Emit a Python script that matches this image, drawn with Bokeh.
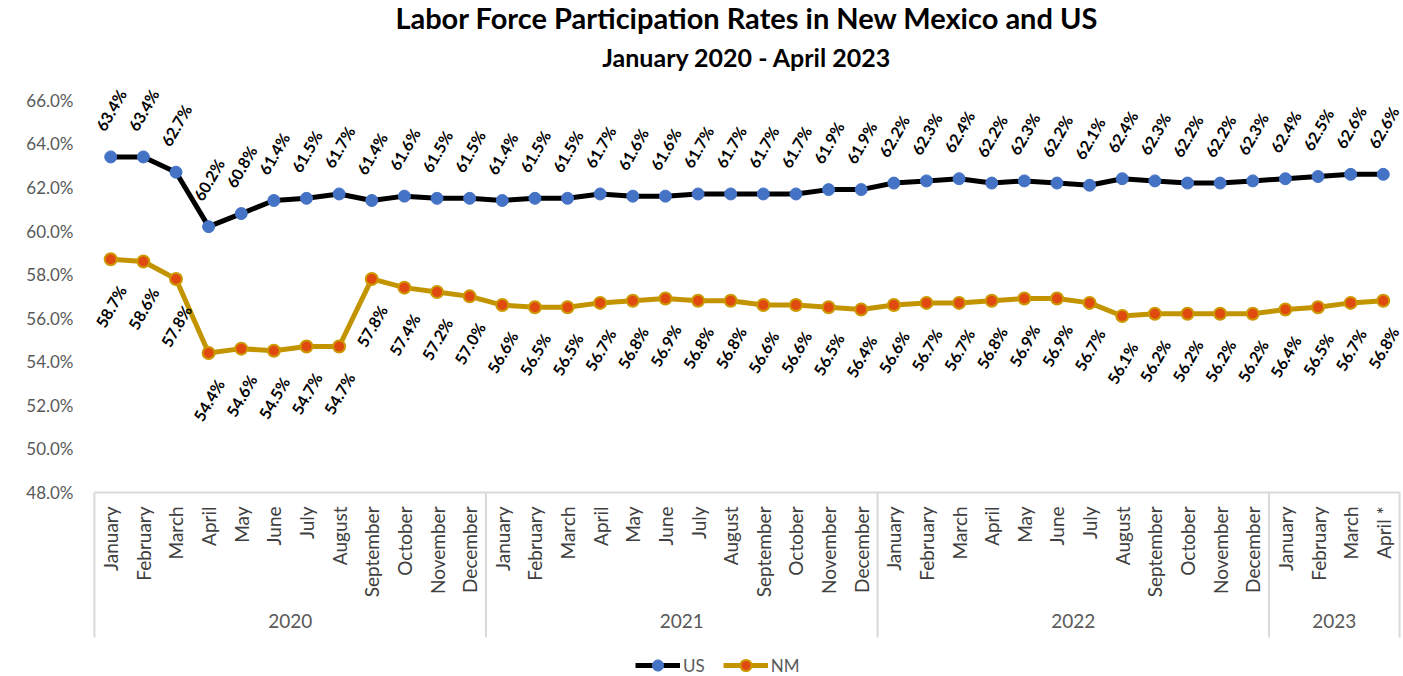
import math
from bokeh.plotting import figure
from bokeh.models import (FactorRange, ColumnDataSource, Range1d, FixedTicker,
                          PrintfTickFormatter, Legend, LegendItem, Title)
from bokeh.embed import file_html
from bokeh.resources import INLINE
from bokeh.core.properties import value

# ---------------- data ----------------
years = ["2020", "2021", "2022", "2023"]
months_per_year = [12, 12, 12, 4]
month_names = ["January", "February", "March", "April", "May", "June", "July",
               "August", "September", "October", "November", "December"]
last_month_label = "April *"

us_rate = [63.4, 63.4, 62.7, 60.2, 60.8, 61.4, 61.5, 61.7, 61.4, 61.6, 61.5, 61.5,
           61.4, 61.5, 61.5, 61.7, 61.6, 61.6, 61.7, 61.7, 61.7, 61.7, 61.9, 61.9,
           62.2, 62.3, 62.4, 62.2, 62.3, 62.2, 62.1, 62.4, 62.3, 62.2, 62.2, 62.3,
           62.4, 62.5, 62.6, 62.6]
nm_rate = [58.7, 58.6, 57.8, 54.4, 54.6, 54.5, 54.7, 54.7, 57.8, 57.4, 57.2, 57.0,
           56.6, 56.5, 56.5, 56.7, 56.8, 56.9, 56.8, 56.8, 56.6, 56.6, 56.5, 56.4,
           56.6, 56.7, 56.7, 56.8, 56.9, 56.9, 56.7, 56.1, 56.2, 56.2, 56.2, 56.2,
           56.4, 56.5, 56.7, 56.8]
y_ticks = [48, 50, 52, 54, 56, 58, 60, 62, 64, 66]

title_text = "Labor Force Participation Rates in New Mexico and US"
subtitle_text = "January 2020 - April 2023"
series_names = ["US", "NM"]

# ---------------- build factors ----------------
factors = []
for yr, n in zip(years, months_per_year):
    for m in range(n):
        factors.append((yr, month_names[m]))
factors[-1] = (factors[-1][0], last_month_label)

src = ColumnDataSource(dict(
    x=factors,
    us=us_rate,
    nm=nm_rate,
    us_lbl=[f"{v:.1f}%" for v in us_rate],
    nm_lbl=[f"{v:.1f}%" for v in nm_rate],
))

FONT = "Lato"
PX_PER_PCT = 392 / 18.0          # 2 points = ~43.6 px
PX_PER_CAT = 32.64               # width of one month slot
X_PAD = 0.12                     # small slack so edge labels are not clipped
AXIS_MIN, TOP_PAD = y_ticks[0], 1.0
BOTTOM_AREA_PX = 184             # room under the 48% line for month/year axis + legend
y_start = AXIS_MIN - BOTTOM_AREA_PX / PX_PER_PCT
y_end = y_ticks[-1] + TOP_PAD
FRAME_H = int(round((y_end - y_start) * PX_PER_PCT))
FRAME_W = int(round((len(factors) + 2 * X_PAD) * PX_PER_CAT))

p = figure(frame_width=FRAME_W, frame_height=FRAME_H,
           x_range=FactorRange(*factors, factor_padding=0, group_padding=0,
                               subgroup_padding=0, range_padding=X_PAD,
                               range_padding_units="absolute"),
           y_range=Range1d(y_start, y_end),
           output_backend="svg", toolbar_location=None,
           min_border_left=90, min_border_right=0, min_border_top=0,
           min_border_bottom=0)

p.outline_line_color = None
p.background_fill_color = "white"
p.border_fill_color = "white"
p.xgrid.visible = False
p.ygrid.visible = False

# titles
p.title.text = title_text
p.title.align = "center"
p.title.text_font = FONT
p.title.text_font_size = "29px"
p.title.text_font_style = "bold"
p.title.text_color = "black"
p.title.standoff = -5
sub = Title(text=subtitle_text, align="center", text_font=FONT,
            text_font_size="25px", text_font_style="bold", text_color="black",
            standoff=14)
p.add_layout(sub, "above")

# y axis
yax = p.yaxis[0]
yax.ticker = FixedTicker(ticks=y_ticks)
yax.formatter = PrintfTickFormatter(format="%.1f%%")
yax.axis_line_color = None
yax.major_tick_line_color = None
yax.minor_tick_line_color = None
yax.major_tick_out = 0
yax.major_tick_in = 0
yax.major_label_standoff = 17
yax.major_label_text_font = FONT
yax.major_label_text_font_size = "17px"
yax.major_label_text_color = "#595959"

# x axis (grouped: months / years), drawn at the 48% line
xax = p.xaxis[0]
xax.fixed_location = AXIS_MIN
xax.major_label_orientation = math.pi / 2
xax.major_label_text_font = FONT
xax.major_label_text_font_size = "19px"
xax.major_label_text_color = "#404040"
xax.group_text_font = FONT
xax.group_text_font_size = "19px"
xax.group_text_font_style = "normal"
xax.group_text_color = "#595959"
xax.group_label_orientation = "horizontal"
xax.axis_line_color = None
xax.major_tick_line_color = None
xax.minor_tick_line_color = None
xax.major_tick_out = 0
xax.major_tick_in = 0
xax.separator_line_color = None
xax.major_label_standoff = 14

# year-box lines: top edge, outer edges and year boundaries below the 48% line
bounds = [0]
for n in months_per_year:
    bounds.append(bounds[-1] + n)
y_box_bottom = AXIS_MIN - 145 / PX_PER_PCT
p.segment(x0=[bounds[0]], y0=[AXIS_MIN], x1=[bounds[-1]], y1=[AXIS_MIN],
          line_color="#d9d9d9", line_width=2)
p.segment(x0=bounds, y0=[AXIS_MIN] * len(bounds), x1=bounds,
          y1=[y_box_bottom] * len(bounds), line_color="#d9d9d9", line_width=2)

# series
us_line = p.line("x", "us", source=src, line_color="black", line_width=5)
us_pts = p.scatter("x", "us", source=src, size=12, fill_color="#4472C4",
                   line_color="#4472C4", line_width=1)
nm_line = p.line("x", "nm", source=src, line_color="#C29400", line_width=5)
nm_pts = p.scatter("x", "nm", source=src, size=12, fill_color="#E04A0E",
                   line_color="#CC9A00", line_width=2)

# data labels
p.text("x", "us", text="us_lbl", source=src, angle=math.pi / 3,
       text_align="center", text_baseline="middle", y_offset=-47,
       text_font=value(FONT), text_font_style="bold", text_font_size="16px",
       text_color="black")
p.text("x", "nm", text="nm_lbl", source=src, angle=math.pi / 3,
       text_align="center", text_baseline="middle", y_offset=47,
       text_font=value(FONT), text_font_style="bold", text_font_size="16px",
       text_color="black")

legend = Legend(items=[LegendItem(label=series_names[0], renderers=[us_line, us_pts]),
                       LegendItem(label=series_names[1], renderers=[nm_line, nm_pts])],
                orientation="horizontal", location=(545, -3),
                label_text_font=FONT, label_text_font_size="17px",
                label_text_color="#595959", glyph_width=45, glyph_height=28,
                label_height=18, label_standoff=3, spacing=18, padding=1, margin=0,
                border_line_color=None, background_fill_alpha=0)
p.add_layout(legend, "center")

open("out.html", "w").write(file_html(p, INLINE))
